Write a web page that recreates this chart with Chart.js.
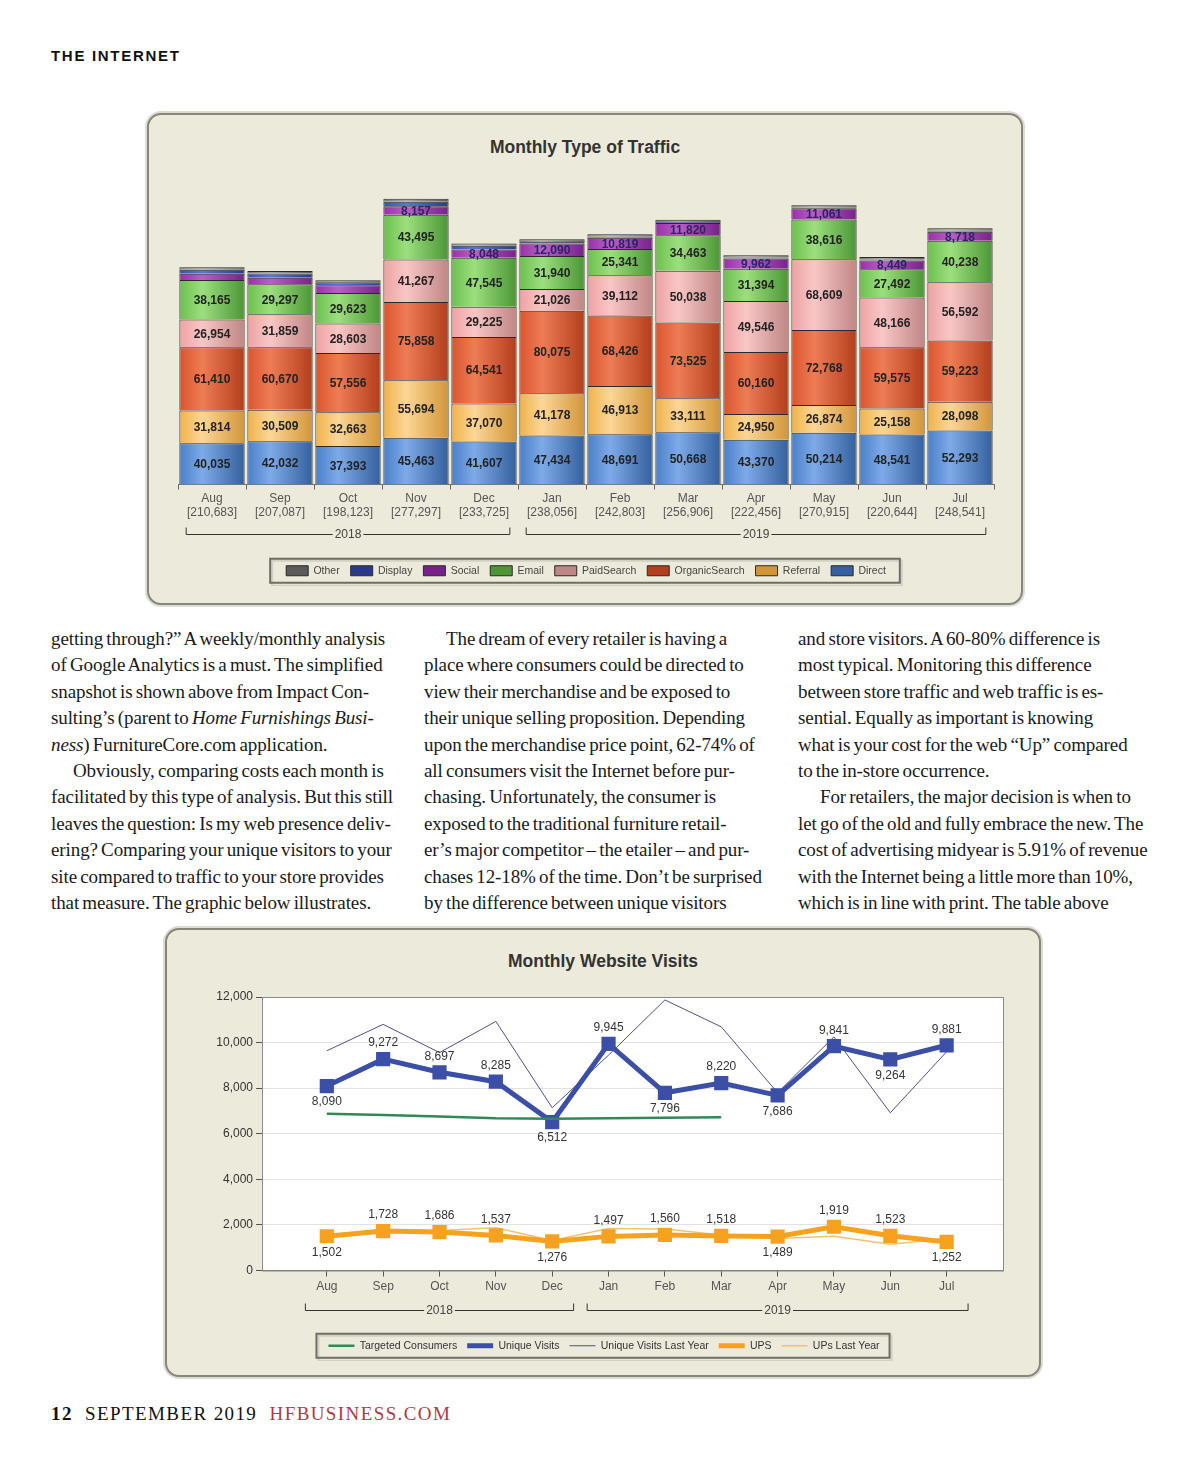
<!DOCTYPE html>
<html>
<head>
<meta charset="utf-8">
<script src="https://cdn.jsdelivr.net/npm/chart.js@4.4.1/dist/chart.umd.min.js"></script>
<style>
  body { margin: 0; width: 1200px; height: 1471px; background: #fff; position: relative; font-family: "Liberation Serif", serif; overflow: hidden; }
  .kicker { position: absolute; left: 51px; top: 47px; font: bold 15px "Liberation Sans", Arial, sans-serif; letter-spacing: 1.7px; color: #111; }
  .panel { position: absolute; box-sizing: border-box; background: #ebeadb; border: 2px solid #86867b; border-radius: 14px; box-shadow: 0 0 0 2px #dcdcd4; }
  .ptitle { position: absolute; left: 0; right: 0; text-align: center; font: bold 17.5px "Liberation Sans", Arial, sans-serif; color: #333; }
  .wrap { position: absolute; }
  .col { position: absolute; top: 626px; font-size: 19px; line-height: 26.4px; color: #1a1a1a; white-space: nowrap; word-spacing: -1.4px; letter-spacing: -0.1px; }
  .col .ind { padding-left: 22px; }
  .foot { position: absolute; left: 51px; top: 1403px; font-size: 19px; letter-spacing: 1.4px; color: #111; }
  .foot .site { color: #b03a46; }
</style>
</head>
<body>
<div class="kicker">THE INTERNET</div>

<div class="panel" style="left:147px; top:113px; width:876px; height:492px;">
  <div class="ptitle" style="top:22px;">Monthly Type of Traffic</div>
</div>
<div class="wrap" style="left:150px; top:160px; width:870px; height:426px;"><canvas id="trafficChart"></canvas></div>

<div class="col" style="left:51px;">
  <div>getting through?” A weekly/monthly analysis</div>
  <div>of Google Analytics is a must. The simplified</div>
  <div>snapshot is shown above from Impact Con-</div>
  <div>sulting’s (parent to <i>Home Furnishings Busi-</i></div>
  <div><i>ness</i>) FurnitureCore.com application.</div>
  <div class="ind">Obviously, comparing costs each month is</div>
  <div>facilitated by this type of analysis. But this still</div>
  <div>leaves the question: Is my web presence deliv-</div>
  <div>ering? Comparing your unique visitors to your</div>
  <div>site compared to traffic to your store provides</div>
  <div>that measure. The graphic below illustrates.</div>
</div>
<div class="col" style="left:424px;">
  <div class="ind">The dream of every retailer is having a</div>
  <div>place where consumers could be directed to</div>
  <div>view their merchandise and be exposed to</div>
  <div>their unique selling proposition. Depending</div>
  <div>upon the merchandise price point, 62-74% of</div>
  <div>all consumers visit the Internet before pur-</div>
  <div>chasing. Unfortunately, the consumer is</div>
  <div>exposed to the traditional furniture retail-</div>
  <div>er’s major competitor – the etailer – and pur-</div>
  <div>chases 12-18% of the time. Don’t be surprised</div>
  <div>by the difference between unique visitors</div>
</div>
<div class="col" style="left:798px;">
  <div>and store visitors. A 60-80% difference is</div>
  <div>most typical. Monitoring this difference</div>
  <div>between store traffic and web traffic is es-</div>
  <div>sential. Equally as important is knowing</div>
  <div>what is your cost for the web “Up” compared</div>
  <div>to the in-store occurrence.</div>
  <div class="ind">For retailers, the major decision is when to</div>
  <div>let go of the old and fully embrace the new. The</div>
  <div>cost of advertising midyear is 5.91% of revenue</div>
  <div>with the Internet being a little more than 10%,</div>
  <div>which is in line with print. The table above</div>
</div>

<div class="panel" style="left:165px; top:928px; width:876px; height:449px;">
  <div class="ptitle" style="top:21px;">Monthly Website Visits</div>
</div>
<div class="wrap" style="left:165px; top:985px; width:875px; height:376px;"><canvas id="visitsChart"></canvas></div>

<div class="foot"><b>12</b>&nbsp; SEPTEMBER 2019 &nbsp;<span class="site">HFBUSINESS.COM</span></div>

<script>
const months = ['Aug', 'Sep', 'Oct', 'Nov', 'Dec', 'Jan', 'Feb', 'Mar', 'Apr', 'May', 'Jun', 'Jul'];
const yearGroups = [{ label: '2018', from: 0, to: 4 }, { label: '2019', from: 5, to: 11 }];

// Monthly Type of Traffic (stacked, bottom to top)
const direct = [40035, 42032, 37393, 45463, 41607, 47434, 48691, 50668, 43370, 50214, 48541, 52293];
const referral = [31814, 30509, 32663, 55694, 37070, 41178, 46913, 33111, 24950, 26874, 25158, 28098];
const organicSearch = [61410, 60670, 57556, 75858, 64541, 80075, 68426, 73525, 60160, 72768, 59575, 59223];
const paidSearch = [26954, 31859, 28603, 41267, 29225, 21026, 39112, 50038, 49546, 68609, 48166, 56592];
const email = [38165, 29297, 29623, 43495, 47545, 31940, 25341, 34463, 31394, 38616, 27492, 40238];
const social = [6000, 6200, 7500, 8157, 8048, 12090, 10819, 11820, 9962, 11061, 8449, 8718];
const display = [4000, 4200, 3000, 4500, 3700, 1500, 1200, 1000, 800, 500, 900, 1000];
const other = [2305, 2320, 1785, 2863, 1989, 2813, 2301, 2281, 2274, 2273, 2363, 2379];

// Monthly Website Visits
const targetedConsumers = [6880, 6820, 6760, 6680, 6660, 6680, 6700, 6720];
const uniqueVisits = [8090, 9272, 8697, 8285, 6512, 9945, 7796, 8220, 7686, 9841, 9264, 9881];
const uniqueVisitsLastYear = [9640, 10800, 9560, 10930, 7140, 9450, 11870, 10690, 7800, 10250, 6920, 9600];
const ups = [1502, 1728, 1686, 1537, 1276, 1497, 1560, 1518, 1489, 1919, 1523, 1252];
const upsLastYear = [1500, 1700, 1760, 1880, 1320, 1840, 1820, 1560, 1400, 1500, 1150, 1400];

Chart.defaults.font.family = '"Liberation Sans", Arial, sans-serif';
Chart.defaults.animation = false;

const fmt = v => v.toLocaleString('en-US');

// cylinder-ish shading per bar
function shaded(base, light, dark) {
  return ctx => {
    if (ctx.type !== 'data' || !ctx.chart.chartArea) return base;
    const sx = ctx.chart.scales.x;
    const cx = sx.getPixelForValue(ctx.dataIndex);
    const half = sx.width / months.length * 0.48;
    const g = ctx.chart.ctx.createLinearGradient(cx - half, 0, cx + half, 0);
    g.addColorStop(0, base);
    g.addColorStop(0.35, light);
    g.addColorStop(1, dark);
    return g;
  };
}

const yearBrackets = {
  id: 'yearBrackets',
  afterDraw(chart, args, opts) {
    const x = chart.scales.x, c = chart.ctx;
    const step = Math.abs(x.getPixelForValue(1) - x.getPixelForValue(0));
    const y = Math.round(x.bottom - opts.fromBottom) + 0.5;
    c.save();
    c.strokeStyle = '#333';
    c.lineWidth = 1;
    c.fillStyle = '#444';
    c.font = '12px "Liberation Sans", Arial';
    c.textAlign = 'center';
    c.textBaseline = 'middle';
    yearGroups.forEach(g => {
      const x0 = x.getPixelForValue(g.from) - step * 0.38;
      const x1 = x.getPixelForValue(g.to) + step * 0.38;
      const mid = (x0 + x1) / 2, tw = c.measureText(g.label).width / 2 + 2;
      c.beginPath();
      c.moveTo(x0, y - 7); c.lineTo(x0, y); c.lineTo(mid - tw, y);
      c.moveTo(mid + tw, y); c.lineTo(x1, y); c.lineTo(x1, y - 7);
      c.stroke();
      c.fillText(g.label, mid, y);
    });
    c.restore();
  }
};

const legendBox = {
  id: 'legendBox',
  afterDraw(chart, args, opts) {
    const boxes = chart.legend.legendHitBoxes;
    if (!boxes || !boxes.length) return;
    const extra = opts.extra || 0;
    const l = Math.min(...boxes.map(b => b.left)) - 12 - extra;
    const r = Math.max(...boxes.map(b => b.left + b.width)) + 10 + extra;
    const cy = boxes[0].top + boxes[0].height / 2;
    const c = chart.ctx;
    c.save();
    c.strokeStyle = '#d0d0c4';
    c.lineWidth = 2;
    c.strokeRect(l + 2, cy - 10, r - l, 25);
    c.strokeStyle = '#6e6e66';
    c.strokeRect(l, cy - 12, r - l, 24);
    c.restore();
  }
};

const barLabels = {
  id: 'barLabels',
  afterDatasetsDraw(chart) {
    const c = chart.ctx;
    c.save();
    c.font = 'bold 12px "Liberation Sans", Arial';
    c.textAlign = 'center';
    c.textBaseline = 'middle';
    chart.data.datasets.forEach((ds, di) => {
      chart.getDatasetMeta(di).data.forEach((bar, i) => {
        if (ds.data[i] < 8000) return;
        c.fillStyle = ds.labelColor || '#222';
        c.fillText(fmt(ds.data[i]), bar.x, (bar.y + bar.base) / 2 + 1);
      });
    });
    c.restore();
  }
};

const trafficSeries = [
  ['Direct', direct, '#4a7fc8', '#7eaae8', '#35609e'],
  ['Referral', referral, '#f0b24a', '#fcd696', '#d2963a'],
  ['OrganicSearch', organicSearch, '#d9552e', '#ee7c54', '#b33e1d'],
  ['PaidSearch', paidSearch, '#eea2a2', '#f9c6c6', '#c08686'],
  ['Email', email, '#6cbf4e', '#9cdf7e', '#4c9636'],
  ['Social', social, '#9a2ea8', '#b860c6', '#77218a'],
  ['Display', display, '#3a50b0', '#5c76d2', '#2a3a88'],
  ['Other', other, '#7a7a7a', '#a8a8a8', '#5a5a5a']
];

new Chart(document.getElementById('trafficChart'), {
  type: 'bar',
  data: {
    labels: months.map((m, i) => [m, '[' + fmt(trafficSeries.reduce((s, t) => s + t[1][i], 0)) + ']']),
    datasets: trafficSeries.map(([label, data, base, light, dark]) => ({
      label, data,
      backgroundColor: shaded(base, light, dark),
      borderColor: '#2a2a2a',
      borderWidth: 1,
      barPercentage: 0.96,
      categoryPercentage: 1,
      labelColor: label === 'Social' ? '#2c2464' : '#222'
    }))
  },
  options: {
    responsive: true,
    maintainAspectRatio: false,
    layout: { padding: { left: 28, right: 26, top: 5 } },
    scales: {
      x: {
        stacked: true,
        grid: { drawOnChartArea: false, tickLength: 5, color: '#666' },
        border: { color: '#777' },
        ticks: { color: '#555', font: { size: 12 }, padding: 2 },
        afterFit: s => { s.height = 70; }
      },
      y: { stacked: true, display: false, min: 0, max: 310000 }
    },
    plugins: {
      legend: {
        position: 'bottom',
        reverse: true,
        labels: { boxWidth: 22, boxHeight: 10, padding: 11, color: '#444', font: { size: 10.5 } }
      },
      tooltip: { enabled: false },
      yearBrackets: { fromBottom: 21 },
      legendBox: { extra: 4 }
    }
  },
  plugins: [barLabels, yearBrackets, legendBox]
});

const plotFrame = {
  id: 'plotFrame',
  beforeDraw(chart) {
    const a = chart.chartArea, c = chart.ctx;
    c.save();
    c.fillStyle = '#fff';
    c.fillRect(a.left, a.top, a.right - a.left, a.bottom - a.top);
    c.restore();
  },
  afterDraw(chart) {
    const a = chart.chartArea, c = chart.ctx;
    c.save();
    c.strokeStyle = '#8a8a8a';
    c.lineWidth = 1;
    c.strokeRect(a.left + 0.5, a.top + 0.5, a.right - a.left, a.bottom - a.top);
    c.restore();
  }
};

const pointLabels = {
  id: 'pointLabels',
  afterDatasetsDraw(chart) {
    const c = chart.ctx;
    c.save();
    c.font = '12px "Liberation Sans", Arial';
    c.fillStyle = '#333';
    c.textAlign = 'center';
    c.textBaseline = 'middle';
    chart.data.datasets.forEach((ds, di) => {
      if (!ds.showValues) return;
      const vals = ds.data.map(p => p.y);
      chart.getDatasetMeta(di).data.forEach((pt, i) => {
        const v = vals[i], prev = vals[i - 1], next = vals[i + 1];
        const low = (prev === undefined || v < prev) && (next === undefined || v < next);
        c.fillText(fmt(v), pt.x, pt.y + (low ? 16 : -16));
      });
    });
    c.restore();
  }
};

const toPoints = arr => arr.map((y, x) => ({ x, y }));

new Chart(document.getElementById('visitsChart'), {
  type: 'line',
  data: {
    datasets: [
      { label: 'Targeted Consumers', data: toPoints(targetedConsumers), borderColor: '#2f8a55', backgroundColor: '#2f8a55', borderWidth: 2.5, pointRadius: 0 },
      { label: 'Unique Visits', data: toPoints(uniqueVisits), borderColor: '#3b4fa6', backgroundColor: '#3b4fa6', borderWidth: 5, pointStyle: 'rect', pointRadius: 6.5, showValues: true },
      { label: 'Unique Visits Last Year', data: toPoints(uniqueVisitsLastYear), borderColor: '#4d4f8e', backgroundColor: '#4d4f8e', borderWidth: 1, pointRadius: 0 },
      { label: 'UPS', data: toPoints(ups), borderColor: '#f6a21e', backgroundColor: '#f6a21e', borderWidth: 5, pointStyle: 'rect', pointRadius: 6.5, showValues: true },
      { label: 'UPs Last Year', data: toPoints(upsLastYear), borderColor: '#f3c36c', backgroundColor: '#f3c36c', borderWidth: 1.5, pointRadius: 0 }
    ]
  },
  options: {
    responsive: true,
    maintainAspectRatio: false,
    layout: { padding: { left: 40, right: 37, top: 12 } },
    scales: {
      x: {
        type: 'linear',
        min: -1.15,
        max: 12,
        afterBuildTicks: axis => { axis.ticks = months.map((m, i) => ({ value: i })); },
        ticks: { callback: v => months[v], color: '#555', font: { size: 12 }, padding: 3 },
        grid: { drawOnChartArea: false, tickLength: 6, color: '#555' },
        border: { color: '#777' },
        afterFit: s => { s.height = 60; }
      },
      y: {
        min: 0,
        max: 12000,
        ticks: { stepSize: 2000, callback: v => fmt(v), color: '#333', font: { size: 12 }, padding: 3 },
        grid: { color: '#e2e2e2', tickLength: 6, tickColor: '#555' },
        border: { color: '#777' },
        afterFit: s => { s.width = 57; }
      }
    },
    plugins: {
      legend: {
        position: 'bottom',
        labels: { usePointStyle: true, pointStyle: 'line', pointStyleWidth: 26, boxHeight: 10, padding: 10, color: '#333', font: { size: 10.5 } }
      },
      tooltip: { enabled: false },
      yearBrackets: { fromBottom: 21 },
      legendBox: { extra: 0 }
    }
  },
  plugins: [plotFrame, pointLabels, yearBrackets, legendBox]
});
</script>
</body>
</html>
